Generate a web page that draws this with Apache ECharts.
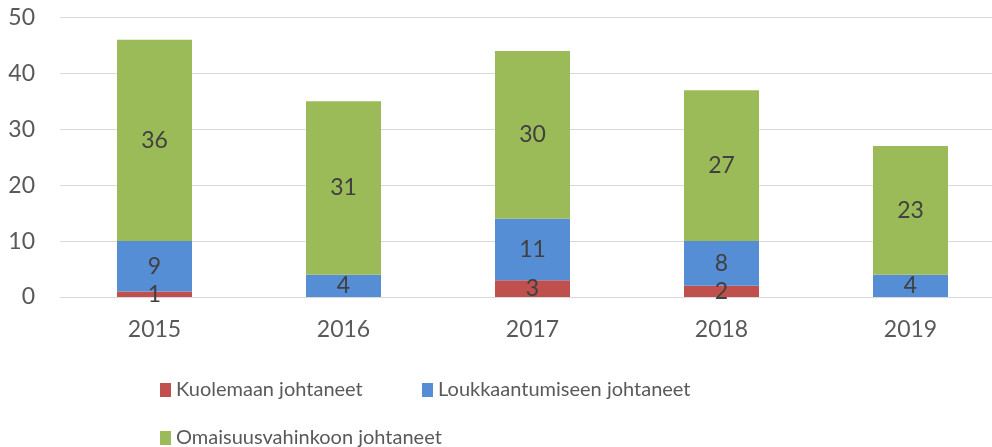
<!DOCTYPE html>
<html>
<head>
<meta charset="utf-8">
<script src="https://cdn.jsdelivr.net/npm/echarts@6/dist/echarts.min.js"></script>
<style>
  html, body { margin: 0; padding: 0; background: #fff; }
  #main { width: 992px; height: 447px; }
</style>
</head>
<body>
<div id="main"></div>
<script>
var years = ['2015', '2016', '2017', '2018', '2019'];
var kuolemaan = [1, 0, 3, 2, 0];
var loukkaantumiseen = [9, 4, 11, 8, 4];
var omaisuus = [36, 31, 30, 27, 23];
var yTicks = [0, 10, 20, 30, 40, 50];

var FONT = "Lato, 'Open Sans', sans-serif";

function bar(name, data, color) {
    return {
        name: name,
        type: 'bar',
        stack: 'total',
        barWidth: 75,
        data: data,
        itemStyle: { color: color },
        label: {
            show: true,
            position: 'inside',
            color: '#404040',
            fontSize: 23,
            fontFamily: FONT,
            formatter: function (p) { return p.value === 0 ? '' : p.value; }
        }
    };
}

var myChart = echarts.init(document.getElementById('main'));
var legendText = { color: '#595959', fontSize: 20, fontFamily: FONT };
myChart.setOption({
    animation: false,
    grid: { left: 60, width: 945, top: 17.5, bottom: 150, outerBoundsMode: 'none', containLabel: false },
    legend: [
        { data: ['Kuolemaan johtaneet'], left: 155, top: 375, itemWidth: 11, itemHeight: 14, itemGap: 5, textStyle: legendText, icon: 'rect' },
        { data: ['Loukkaantumiseen johtaneet'], left: 417, top: 375, itemWidth: 11, itemHeight: 14, itemGap: 5, textStyle: legendText, icon: 'rect' },
        { data: ['Omaisuusvahinkoon johtaneet'], left: 155, top: 423, itemWidth: 11, itemHeight: 14, itemGap: 5, textStyle: legendText, icon: 'rect' }
    ],
    xAxis: {
        type: 'category',
        data: years,
        axisLine: { show: true, lineStyle: { color: '#D9D9D9', width: 1 } },
        axisTick: { show: false },
        axisLabel: { color: '#595959', fontSize: 23, fontFamily: FONT, margin: 21 }
    },
    yAxis: {
        type: 'value',
        min: yTicks[0],
        max: yTicks[yTicks.length - 1],
        interval: 10,
        axisLine: { show: false },
        axisTick: { show: false },
        splitLine: { lineStyle: { color: '#D9D9D9', width: 1 } },
        axisLabel: { color: '#595959', fontSize: 23, fontFamily: FONT, margin: 25 }
    },
    series: [
        bar('Kuolemaan johtaneet', kuolemaan, '#C0504D'),
        bar('Loukkaantumiseen johtaneet', loukkaantumiseen, '#558ED5'),
        bar('Omaisuusvahinkoon johtaneet', omaisuus, '#9BBB59')
    ]
});
</script>
</body>
</html>
